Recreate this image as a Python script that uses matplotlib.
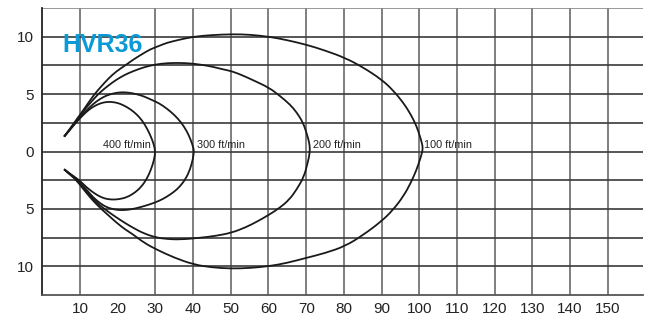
import matplotlib
matplotlib.use("Agg")
import matplotlib.pyplot as plt
from matplotlib.path import Path
from matplotlib.patches import PathPatch

plt.rcParams['font.family'] = ['Liberation Sans', 'DejaVu Sans']

# throw curves: (distance, height) pairs, upper branch then lower
x400 = [5.8, 7, 8.5, 10, 11.5, 13, 14.5, 16, 17.5, 19, 20.5, 22, 23.5, 25, 26.5, 27.8, 28.8, 29.5, 30,
        29.6, 28.8, 27.7, 26.2, 24.5, 22.5, 20.5, 18.5, 16.5, 14.8, 13.2, 11.5, 10, 8.5, 7, 5.8]
y400 = [1.3, 1.75, 2.35, 2.9, 3.4, 3.8, 4.08, 4.26, 4.33, 4.3, 4.18, 3.95, 3.65, 3.25, 2.7, 2.0, 1.3, 0.7, 0,
        -0.8, -1.6, -2.4, -3.1, -3.6, -3.98, -4.15, -4.2, -4.1, -3.85, -3.5, -3.05, -2.55, -2.2, -1.85, -1.55]

x300 = [5.8, 7, 8.5, 10, 11.8, 13.5, 15.3, 17, 19, 21, 23, 25, 27, 29, 31, 33, 35, 36.8, 38.3, 39.4, 40.1, 40.2,
        40, 39.2, 38, 36.5, 35, 33, 31, 28.6, 26, 23.5, 21, 19, 17, 15.3, 13.5, 11.8, 10, 8.5, 7, 5.8]
y300 = [1.3, 1.78, 2.42, 3.0, 3.6, 4.15, 4.58, 4.88, 5.08, 5.17, 5.13, 5.0, 4.8, 4.5, 4.2, 3.75, 3.2, 2.55, 1.8, 1.0, 0.3, 0,
        -0.6, -1.57, -2.4, -3.05, -3.5, -3.95, -4.3, -4.6, -4.85, -5.05, -5.12, -5.05, -4.85, -4.5, -4.0, -3.35, -2.7, -2.25, -1.88, -1.55]

x200 = [5.8, 7, 8.5, 10, 11.5, 12.65, 14, 15.3, 17.5, 19.7, 22, 24.1, 27, 30, 33, 36.5, 39, 41.8, 45, 48, 50.2,
        53, 56, 60.2, 63, 65.7, 67.5, 69.2, 70.2, 70.8, 71,
        70.8, 70.3, 69.4, 67.5, 65.5, 63, 60.2, 57, 54, 50.2, 46, 41.8, 36.5, 33, 30.3, 27, 24.1, 21.8, 19.7,
        17.5, 15.3, 13.5, 11.8, 10, 8.5, 7, 5.8]
y200 = [1.3, 1.8, 2.48, 3.12, 3.75, 4.2, 4.7, 5.15, 5.75, 6.27, 6.7, 7.0, 7.35, 7.58, 7.7, 7.72, 7.68, 7.58, 7.4, 7.15, 7.0,
        6.65, 6.2, 5.55, 4.85, 4.1, 3.4, 2.5, 1.5, 0.8, 0.2,
        -0.4, -1.1, -2.2, -3.3, -4.2, -4.9, -5.5, -6.1, -6.6, -7.08, -7.35, -7.52, -7.67, -7.62, -7.5, -7.15, -6.65, -6.2, -5.75,
        -5.25, -4.7, -4.15, -3.5, -2.8, -2.28, -1.9, -1.55]

x100 = [5.8, 7, 8.5, 10, 11.3, 12.65, 14, 15.3, 17.5, 19.7, 22, 24.1, 26.3, 28.6, 31, 33, 36.5, 40.1, 45, 50.7,
        55, 60.2, 65, 70.1, 75, 80.3, 85, 90, 93, 95.8, 97.8, 99.3, 100.3, 100.8, 100.9,
        100.8, 100.3, 99.3, 97.8, 95.8, 93, 90, 85, 80.3, 75, 70.1, 65, 60.2, 55, 50.2, 45, 40.1, 35, 30.3, 27, 24.1,
        21.8, 19.7, 17.5, 15.3, 13.5, 11.8, 10, 8.5, 7, 5.8]
y100 = [1.3, 1.82, 2.52, 3.2, 3.8, 4.45, 5.05, 5.55, 6.35, 7.0, 7.5, 8.0, 8.45, 8.9, 9.2, 9.47, 9.75, 10.0, 10.15, 10.22,
        10.18, 10.0, 9.7, 9.3, 8.8, 8.16, 7.35, 6.27, 5.35, 4.24, 3.2, 2.2, 1.2, 0.6, 0.3,
        0.0, -0.6, -1.57, -2.7, -3.9, -5.1, -6.07, -7.3, -8.25, -8.85, -9.26, -9.7, -9.99, -10.15, -10.2, -10.1, -9.84, -9.25, -8.54, -7.95, -7.23,
        -6.75, -6.2, -5.55, -4.9, -4.3, -3.65, -2.9, -2.32, -1.92, -1.55]

speed_labels = ["400 ft/min", "300 ft/min", "200 ft/min", "100 ft/min"]
label_x = [16.0, 41.1, 71.7, 101.2]

xticks = [10, 20, 30, 40, 50, 60, 70, 80, 90, 100, 110, 120, 130, 140, 150]
yticks = [-10, -5, 0, 5, 10]
ytick_labels = ["10", "5", "0", "5", "10"]
vgrid = [10, 30, 40, 50, 60, 70, 80, 90, 100, 110, 120, 130, 140, 150]
hgrid = [-10, -7.5, -5, -2.5, 0, 2.5, 5, 7.5, 10, 12.5]


def smooth_path(xs, ys):
    # quadratic bezier through the midpoints, read points act as control points
    pts = list(zip(xs, ys))
    verts = [pts[0]]
    codes = [Path.MOVETO]
    for i in range(1, len(pts) - 1):
        end = pts[i + 1] if i == len(pts) - 2 else ((pts[i][0] + pts[i + 1][0]) / 2,
                                                     (pts[i][1] + pts[i + 1][1]) / 2)
        verts += [pts[i], end]
        codes += [Path.CURVE3, Path.CURVE3]
    return Path(verts, codes)


fig = plt.figure(figsize=(6.52, 3.18), dpi=100)
ax = fig.add_axes([0.0649, 0.0723, 0.9213, 0.9025])
ax.set_xlim(0, 159.35)
ax.set_ylim(-12.5, 12.5)

for v in vgrid:
    ax.axvline(v, color='#6a6a6a', lw=1.2, zorder=1)
for h in hgrid:
    ax.axhline(h, color='#3a3a3a' if h < 12.5 else '#888888', lw=1.2, zorder=1)

for xs, ys in [(x400, y400), (x300, y300), (x200, y200), (x100, y100)]:
    ax.add_patch(PathPatch(smooth_path(xs, ys), facecolor='none', edgecolor='#1a1a1a',
                           lw=1.3, zorder=3))

for lbl, lx in zip(speed_labels, label_x):
    ax.text(lx, 0.15, lbl, fontsize=7.8, color='#222222', va='bottom', ha='left', zorder=4)

ax.text(5.2, 8.7, "HVR36", fontsize=18, fontweight='bold', color='#0b9ad8',
        va='baseline', ha='left', zorder=4)

ax.set_xticks(xticks)
ax.set_yticks(yticks)
ax.set_yticklabels(ytick_labels)
ax.tick_params(length=0, labelsize=11, colors='#222222', pad=6)
ax.tick_params(axis='x', pad=5)

ax.spines['right'].set_visible(False)
ax.spines['top'].set_visible(False)
ax.spines['left'].set_color('#222222')
ax.spines['left'].set_linewidth(1.3)
ax.spines['bottom'].set_color('#555555')
ax.spines['bottom'].set_linewidth(1.3)

fig.savefig("out.png", dpi=100)
